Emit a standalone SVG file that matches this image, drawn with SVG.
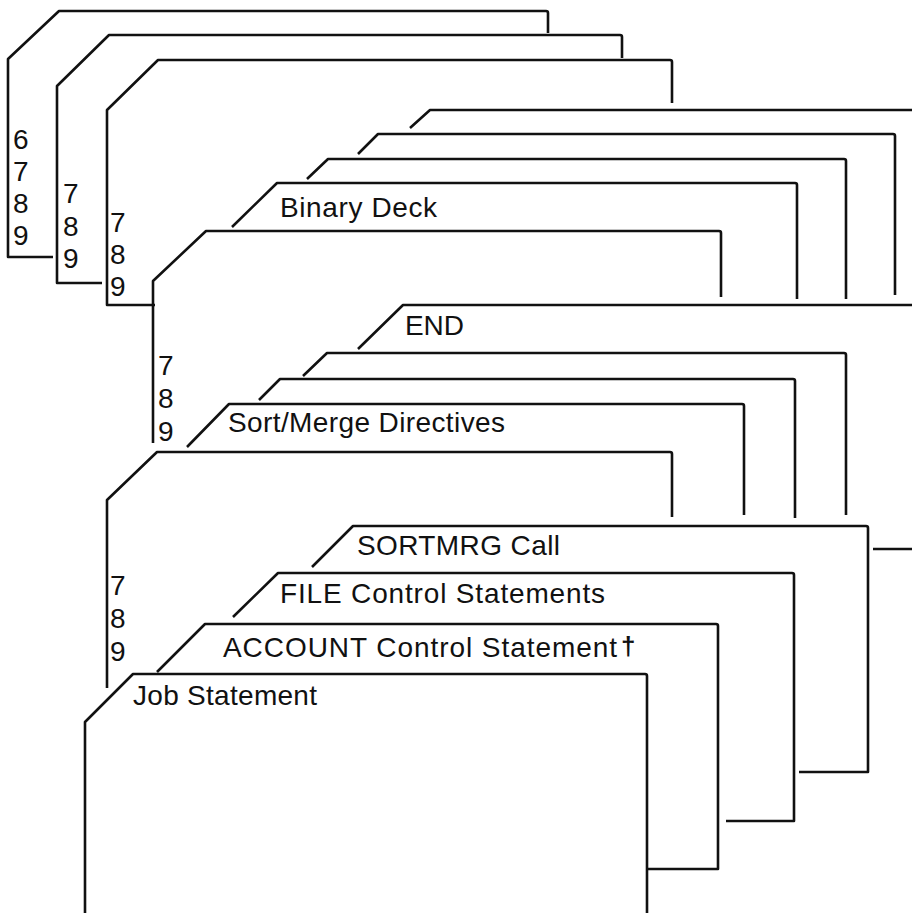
<svg xmlns="http://www.w3.org/2000/svg" width="912" height="913" viewBox="0 0 912 913">
<style>
.c{fill:none;stroke:#111;stroke-width:2.6;stroke-linejoin:round;stroke-linecap:butt}
.t{font-family:"Liberation Sans","Noto Sans",Arial,sans-serif;font-size:28px;fill:#111}
.d{font-family:"Liberation Sans","Noto Sans",Arial,sans-serif;font-size:28px;fill:#111}
</style>
<rect width="912" height="913" fill="#fff"/>
<g id="connectors"/>
<g id="card-6789">
<path class="c" d="M53,257 H8 V59 L59,11 H546 Q548,11 548,13 V33"/>
<text class="d" x="13" y="149">6</text><text class="d" x="13" y="181">7</text><text class="d" x="13" y="213">8</text><text class="d" x="13" y="245">9</text>
</g>
<g id="card-789-a">
<path class="c" d="M102,283 H57 V86 L109,35 H620 Q622,35 622,37 V58"/>
<text class="d" x="63" y="203">7</text><text class="d" x="63" y="236">8</text><text class="d" x="63" y="268">9</text>
</g>
<g id="card-789-b">
<path class="c" d="M155,305 H107 V110 L158,60 H670 Q672,60 672,62 V103"/>
<text class="d" x="110" y="232">7</text><text class="d" x="110" y="264">8</text><text class="d" x="110" y="296">9</text>
</g>
<g id="binary-a"><path class="c" d="M410,128 L430,110 H912"/></g>
<g id="binary-b"><path class="c" d="M358,154 L378,134 H893 Q895,134 895,136 V295"/></g>
<g id="binary-c"><path class="c" d="M307,179 L328,159 H844 Q846,159 846,161 V299"/></g>
<g id="binary-deck">
<path class="c" d="M232,227 L277,183 H795 Q797,183 797,185 V299"/>
<text class="t" x="280" y="217" textLength="157" lengthAdjust="spacing">Binary Deck</text>
</g>
<g id="card-789-c">
<path class="c" d="M153,443 V281 L206,231 H719 Q721,231 721,233 V297"/>
<text class="d" x="158" y="375">7</text><text class="d" x="158" y="408">8</text><text class="d" x="158" y="441">9</text>
</g>
<g id="end">
<path class="c" d="M358,349 L403,305 H912"/>
<text class="t" x="405" y="335" textLength="59" lengthAdjust="spacing">END</text>
</g>
<g id="directive-a"><path class="c" d="M303,376 L327,353 H844 Q846,353 846,355 V515"/></g>
<g id="directive-b"><path class="c" d="M259,400 L280,379 H793 Q795,379 795,381 V518"/></g>
<g id="sort-merge-directives">
<path class="c" d="M187,447 L229,404 H742 Q744,404 744,406 V515"/>
<text class="t" x="228" y="432" textLength="277" lengthAdjust="spacing">Sort/Merge Directives</text>
</g>
<g id="card-789-d">
<path class="c" d="M107,688 V500 L157,452 H670 Q672,452 672,454 V517"/>
<text class="d" x="110" y="595">7</text><text class="d" x="110" y="628">8</text><text class="d" x="110" y="661">9</text>
</g>
<g id="edge-line"><path class="c" d="M873,549 H912"/></g>
<g id="sortmrg-call">
<path class="c" d="M312,567 L353,526 H866 Q868,526 868,528 V772 H799"/>
<text class="t" x="357" y="555" textLength="203" lengthAdjust="spacing">SORTMRG Call</text>
</g>
<g id="file-control">
<path class="c" d="M233,617 L278,573 H792 Q794,573 794,575 V821 H726"/>
<text class="t" x="280" y="603" textLength="325" lengthAdjust="spacing">FILE Control Statements</text>
</g>
<g id="account-control">
<path class="c" d="M157,672 L205,624 H716 Q718,624 718,626 V869 H647"/>
<text class="t" x="223" y="657" textLength="394" lengthAdjust="spacing">ACCOUNT Control Statement</text>
<text class="t" x="621" y="655" style="font-weight:bold;font-size:26px">†</text>
</g>
<g id="job-statement">
<path class="c" d="M85,913 V722 L133,674 H645 Q647,674 647,676 V913"/>
<text class="t" x="133" y="705" textLength="184" lengthAdjust="spacing">Job Statement</text>
</g>
</svg>
